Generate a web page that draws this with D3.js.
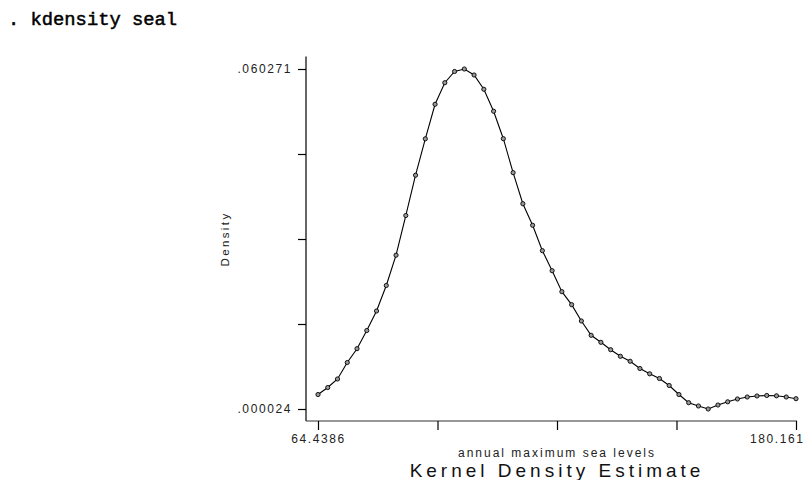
<!DOCTYPE html>
<html>
<head>
<meta charset="utf-8">
<script src="https://d3js.org/d3.v7.min.js"></script>
<style>
  html, body { margin: 0; padding: 0; background: #fff; }
  svg { display: block; }
</style>
</head>
<body>
<svg id="chart" width="806" height="480"></svg>
<script>
// kdensity grid points (Stata default n = 50)
const seaLevels = [
  64.4386, 66.8003, 69.1620, 71.5236, 73.8853, 76.2470, 78.6087, 80.9704, 83.3321, 85.6937,
  88.0554, 90.4171, 92.7788, 95.1405, 97.5022, 99.8638, 102.2255, 104.5872, 106.9489, 109.3106,
  111.6722, 114.0339, 116.3956, 118.7573, 121.1190, 123.4807, 125.8423, 128.2040, 130.5657, 132.9274,
  135.2891, 137.6507, 140.0124, 142.3741, 144.7358, 147.0975, 149.4592, 151.8208, 154.1825, 156.5442,
  158.9059, 161.2676, 163.6292, 165.9909, 168.3526, 170.7143, 173.0760, 175.4377, 177.7993, 180.1610
];
const density = [
  0.00259, 0.00383, 0.00534, 0.00826, 0.01071, 0.01393, 0.01739, 0.02191, 0.02728, 0.03431,
  0.04145, 0.04790, 0.05402, 0.05784, 0.05983, 0.060271, 0.05921, 0.05668, 0.05279, 0.04792,
  0.04190, 0.03640, 0.03258, 0.02808, 0.02453, 0.02081, 0.01851, 0.01562, 0.01308, 0.01184,
  0.01053, 0.00936, 0.00848, 0.00720, 0.00626, 0.00543, 0.00419, 0.00259, 0.00114, 0.00056,
  0.000024, 0.00073, 0.00130, 0.00180, 0.00215, 0.00233, 0.00242, 0.00236, 0.00215, 0.00185
];
const xTicks = [64.4386, 93.3692, 122.2998, 151.2303, 180.161];
const yTicks = [0.000024, 0.0150858, 0.0301475, 0.0452093, 0.060271];
const xLabels = ["64.4386", "", "", "", "180.161"];
const yLabels = [".000024", "", "", "", ".060271"];

const svg = d3.select("#chart");
const labelFont = "'Liberation Sans', Arial, sans-serif";

const x = d3.scaleLinear().domain([xTicks[0], xTicks[4]]).range([318, 796]);
const y = d3.scaleLinear().domain([yTicks[0], yTicks[4]]).range([409, 69]);

const axisX = x.range()[0] - 12;   // y axis line position
const axisY = y.range()[0] + 12;   // x axis line position

// command echo
svg.append("text")
  .attr("x", 8).attr("y", 25)
  .attr("font-family", "'Liberation Mono', 'DejaVu Sans Mono', monospace")
  .attr("font-size", 18.8)
  .attr("fill", "#000")
  .attr("stroke", "#000").attr("stroke-width", 0.5)
  .text(". kdensity seal");

// axis lines
svg.append("line")
  .attr("x1", axisX).attr("x2", axisX)
  .attr("y1", y.range()[1] - 12.5).attr("y2", axisY)
  .attr("stroke", "#000").attr("stroke-width", 1.2);
svg.append("line")
  .attr("x1", axisX).attr("x2", x.range()[1] + 1)
  .attr("y1", axisY).attr("y2", axisY)
  .attr("stroke", "#333").attr("stroke-width", 1.2);

// y axis
const gy = svg.append("g")
  .attr("transform", `translate(${axisX},0)`)
  .call(d3.axisLeft(y).tickValues(yTicks).tickSize(8).tickPadding(6)
    .tickFormat((d, i) => yLabels[i]));
gy.select(".domain").remove();
gy.selectAll(".tick line").attr("stroke", "#000").attr("stroke-width", 1.2);
gy.selectAll(".tick text")
  .attr("font-family", labelFont).attr("font-size", 12)
  .attr("letter-spacing", 1.6).attr("fill", "#222");

// x axis
const gx = svg.append("g")
  .attr("transform", `translate(0,${axisY})`)
  .call(d3.axisBottom(x).tickValues(xTicks).tickSize(9).tickPadding(4)
    .tickFormat((d, i) => xLabels[i]));
gx.select(".domain").remove();
gx.selectAll(".tick line").attr("stroke", "#000").attr("stroke-width", 1.2);
gx.selectAll(".tick text")
  .attr("font-family", labelFont).attr("font-size", 12)
  .attr("letter-spacing", 1.6).attr("fill", "#222");
// last label is pushed inside the page
gx.selectAll(".tick text").filter((d, i) => i === 4)
  .attr("text-anchor", "end").attr("dx", 8);

// axis titles
svg.append("text")
  .attr("transform", `translate(229,${(y.range()[0] + y.range()[1]) / 2}) rotate(-90)`)
  .attr("text-anchor", "middle")
  .attr("font-family", labelFont).attr("font-size", 11.5)
  .attr("letter-spacing", 2.4).attr("fill", "#222")
  .text("Density");

const midX = (x.range()[0] + x.range()[1]) / 2;
svg.append("text")
  .attr("x", midX).attr("y", 457)
  .attr("text-anchor", "middle")
  .attr("font-family", labelFont).attr("font-size", 12)
  .attr("letter-spacing", 2).attr("fill", "#222")
  .text("annual maximum sea levels");

svg.append("text")
  .attr("x", midX).attr("y", 477)
  .attr("text-anchor", "middle")
  .attr("font-family", labelFont).attr("font-size", 19)
  .attr("letter-spacing", 4).attr("fill", "#111")
  .text("Kernel Density Estimate");

// curve
const pts = seaLevels.map((v, i) => [v, density[i]]);
svg.append("path")
  .datum(pts)
  .attr("fill", "none")
  .attr("stroke", "#000")
  .attr("stroke-width", 1.1)
  .attr("d", d3.line().x(d => x(d[0])).y(d => y(d[1])));

svg.append("g")
  .selectAll("circle")
  .data(pts)
  .join("circle")
  .attr("cx", d => x(d[0]))
  .attr("cy", d => y(d[1]))
  .attr("r", 2.1)
  .attr("fill", "#999")
  .attr("stroke", "#000")
  .attr("stroke-width", 0.9);
</script>
</body>
</html>
